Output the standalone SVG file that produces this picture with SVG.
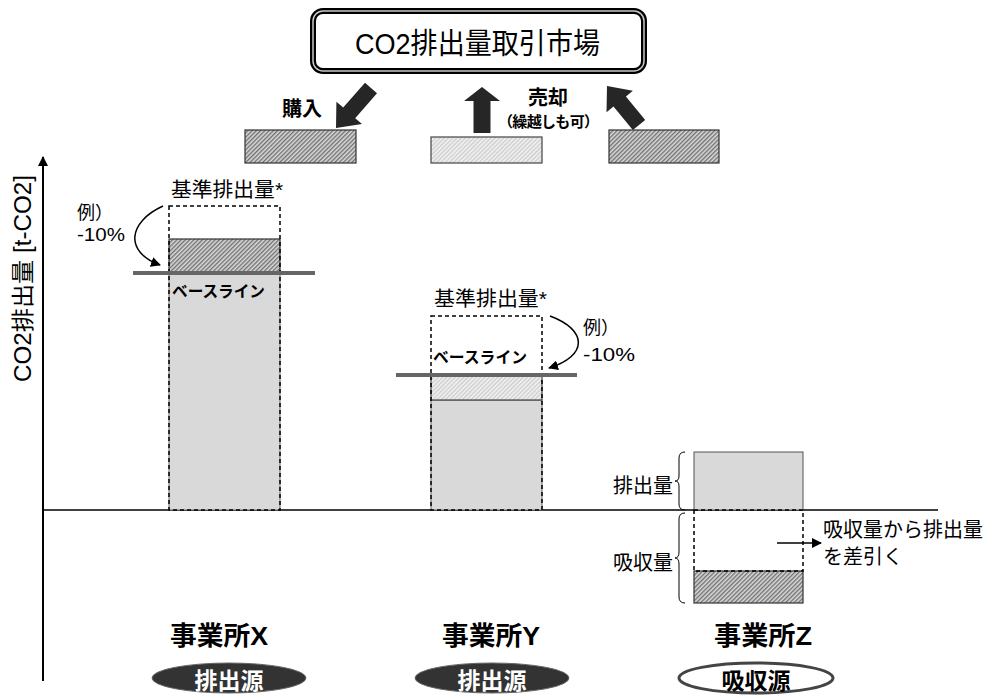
<svg xmlns="http://www.w3.org/2000/svg" width="987" height="696" viewBox="0 0 987 696">
<defs>
<style>
text{font-family:"Liberation Sans","Noto Sans CJK JP",sans-serif;fill:#000}
.b{font-weight:bold}
.dash{fill:none;stroke:#000;stroke-width:1.5;stroke-dasharray:4 3}
.gray{fill:#d9d9d9;stroke:#666;stroke-width:1}
.hd{fill:url(#hatchDark);stroke:#333;stroke-width:1.2}
.hl{fill:url(#hatchLight);stroke:#444;stroke-width:1.2}
.base{stroke:#666;stroke-width:4}
.blk{fill:#262626}
.conn{fill:none;stroke:#000;stroke-width:1.5}
</style>
<pattern id="hatchDark" width="3" height="3" patternUnits="userSpaceOnUse" patternTransform="rotate(45)">
<rect width="3" height="3" fill="#dadada"/>
<line x1="0.75" y1="0" x2="0.75" y2="3" stroke="#555" stroke-width="1.1"/>
</pattern>
<pattern id="hatchLight" width="3" height="3" patternUnits="userSpaceOnUse" patternTransform="rotate(45)">
<rect width="3" height="3" fill="#f2f2f2"/>
<line x1="0.75" y1="0" x2="0.75" y2="3" stroke="#c0c0c0" stroke-width="1"/>
</pattern>
<marker id="ah" viewBox="0 0 10 10" refX="9" refY="5" markerWidth="10" markerHeight="10" markerUnits="userSpaceOnUse" orient="auto">
<path d="M0,0 L10,5 L0,10 z" fill="#000"/>
</marker>
</defs>
<rect width="987" height="696" fill="#fff"/>

<g id="market">
<rect x="313" y="11" width="331" height="60" rx="10" fill="#fff" stroke="#000" stroke-width="6"/>
<rect x="313" y="11" width="331" height="60" rx="10" fill="none" stroke="#c8c8c8" stroke-width="1.5"/>
<text x="355" y="54" font-size="29" textLength="245" lengthAdjust="spacingAndGlyphs">CO2排出量取引市場</text>
</g>

<g id="trade-x">
<rect x="245" y="130" width="111" height="33" class="hd"/>
<polygon class="blk" points="377,93.3 355.2,118.2 362,124.1 336,128 336.4,101.7 343.2,107.6 365,82.7"/>
<text x="282" y="116" font-size="20" class="b">購入</text>
</g>

<g id="trade-y">
<rect x="431" y="137" width="111" height="26" class="hl"/>
<polygon class="blk" points="473.5,133 490.5,133 490.5,101 500,101 482,87 464,101 473.5,101"/>
<text x="528" y="105" font-size="20" class="b">売却</text>
<text x="498" y="127" font-size="15" class="b" textLength="101">（繰越しも可）</text>
</g>

<g id="trade-z">
<rect x="609" y="130" width="110" height="33" class="hd"/>
<polygon class="blk" points="645.2,119.9 625.9,96.4 632.9,90.7 607,86 606.5,112.3 613.5,106.6 632.8,130.1"/>
</g>

<g id="axis">
<line x1="43" y1="681" x2="43" y2="157" stroke="#000" stroke-width="2" marker-end="url(#ah)"/>
<line x1="43" y1="510" x2="938" y2="510" stroke="#000" stroke-width="1.5"/>
<text transform="translate(31,382) rotate(-90)" font-size="23" textLength="207" lengthAdjust="spacingAndGlyphs">CO2排出量 [t-CO2]</text>
</g>

<g id="siteX">
<rect x="169" y="273" width="111" height="237" class="gray"/>
<rect x="169" y="239" width="111" height="34" class="hd"/>
<rect x="169" y="206" width="111" height="304" class="dash"/>
<line x1="133" y1="273" x2="315" y2="273" class="base"/>
<text x="171" y="197" font-size="20" textLength="112" lengthAdjust="spacingAndGlyphs">基準排出量*</text>
<text x="172" y="297" font-size="16" class="b" textLength="93" lengthAdjust="spacingAndGlyphs" fill="#333">ベースライン</text>
<text x="77" y="219" font-size="18">例）</text>
<text x="77" y="241" font-size="18" textLength="48" lengthAdjust="spacingAndGlyphs">-10%</text>
<text x="170" y="645" font-size="26" class="b" textLength="98" lengthAdjust="spacingAndGlyphs">事業所X</text>
<ellipse cx="229" cy="678" rx="77" ry="15" fill="#333" stroke="#666" stroke-width="1"/>
<text x="229" y="689" font-size="23" class="b" text-anchor="middle" style="fill:#fff">排出源</text>
</g>

<g id="siteY">
<rect x="431" y="400" width="111" height="110" class="gray"/>
<rect x="431" y="375" width="111" height="25" class="hl"/>
<rect x="431" y="316" width="111" height="194" class="dash"/>
<line x1="396" y1="375" x2="577" y2="375" class="base"/>
<text x="434" y="306" font-size="20" textLength="113" lengthAdjust="spacingAndGlyphs">基準排出量*</text>
<text x="433" y="363" font-size="16" class="b" textLength="94" lengthAdjust="spacingAndGlyphs" fill="#333">ベースライン</text>
<text x="583" y="334" font-size="18">例）</text>
<text x="583" y="361" font-size="18" textLength="52" lengthAdjust="spacingAndGlyphs">-10%</text>
<text x="442" y="645" font-size="26" class="b" textLength="98" lengthAdjust="spacingAndGlyphs">事業所Y</text>
<ellipse cx="492" cy="678" rx="77" ry="15" fill="#333" stroke="#666" stroke-width="1"/>
<text x="492" y="689" font-size="23" class="b" text-anchor="middle" style="fill:#fff">排出源</text>
</g>

<g id="siteZ">
<rect x="694" y="452" width="109" height="58" class="gray" style="stroke:#555"/>
<rect x="694" y="571" width="109" height="32" class="hd"/>
<rect x="694" y="510" width="109" height="61" class="dash"/>
<path d="M685,452 Q679,452 679,458 L679,476 Q679,481 675,481 Q679,481 679,486 L679,504 Q679,510 685,510" fill="none" stroke="#000" stroke-width="1"/>
<path d="M685,513 Q679,513 679,519 L679,552 Q679,558 675,558 Q679,558 679,564 L679,597 Q679,603 685,603" fill="none" stroke="#000" stroke-width="1"/>
<text x="613" y="493" font-size="20">排出量</text>
<text x="613" y="570" font-size="20">吸収量</text>
<text x="823" y="537" font-size="20">吸収量から排出量</text>
<text x="823" y="564" font-size="20">を差引く</text>
<text x="714" y="645" font-size="26" class="b" textLength="98" lengthAdjust="spacingAndGlyphs">事業所Z</text>
<ellipse cx="756" cy="678" rx="77" ry="15" fill="#fff" stroke="#444" stroke-width="3"/>
<text x="756" y="689" font-size="23" class="b" text-anchor="middle">吸収源</text>
</g>

<g id="connectors">
<path d="M163,206 C128,222 124,252 160,265" class="conn" marker-end="url(#ah)"/>
<path d="M550,316 C588,330 588,356 549,368" class="conn" marker-end="url(#ah)"/>
<line x1="777" y1="543" x2="821" y2="543" class="conn" marker-end="url(#ah)"/>
</g>
</svg>
